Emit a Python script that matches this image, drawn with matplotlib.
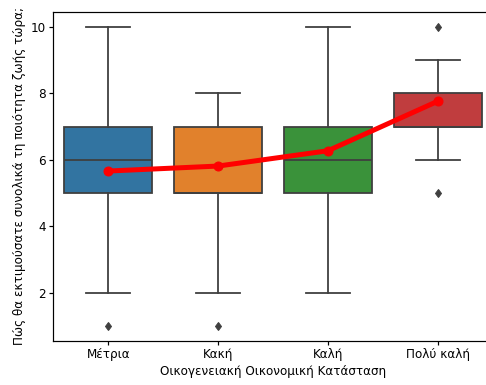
import matplotlib
matplotlib.use("Agg")
import matplotlib.pyplot as plt

categories = ["Μέτρια", "Κακή", "Καλή", "Πολύ καλή"]
whislo = [2, 2, 2, 6]
q1 = [5, 5, 5, 7]
med = [6, 5, 6, 7]
q3 = [7, 7, 7, 8]
whishi = [10, 8, 10, 9]
fliers = [[1], [1], [], [5, 10]]
means = [5.66, 5.81, 6.27, 7.76]
colors = ["#3274a1", "#e1812c", "#3a923a", "#c03d3e"]

xlabel = "Οικογενειακή Οικονομική Κατάσταση"
ylabel = "Πώς θα εκτιμούσατε συνολικά τη ποιότητα ζωής τώρα;"

dpi = 72
fig = plt.figure(figsize=(486 / dpi, 385 / dpi), dpi=dpi)
W, H = 486, 385
left, right, top, bottom = 53.3, 492.5, 12, 340.7
ax = fig.add_axes([left / W, 1 - bottom / H, (right - left) / W, (bottom - top) / H])

gray = "#3f3f3f"
lw = 1.8
stats = []
for i, c in enumerate(categories):
    stats.append(dict(whislo=whislo[i], q1=q1[i], med=med[i], q3=q3[i],
                      whishi=whishi[i], fliers=fliers[i], label=c))
pos = list(range(len(categories)))
bp = ax.bxp(stats, positions=pos, widths=0.8, patch_artist=True,
            boxprops=dict(edgecolor=gray, linewidth=lw),
            whiskerprops=dict(color=gray, linewidth=lw),
            capprops=dict(color=gray, linewidth=lw),
            medianprops=dict(color=gray, linewidth=lw),
            flierprops=dict(marker="d", markerfacecolor=gray, markeredgecolor=gray,
                            markersize=6, linestyle="none"))
for patch, col in zip(bp["boxes"], colors):
    patch.set_facecolor(col)

ax.plot(pos, means, color="red", linewidth=5, marker="o", markersize=9, zorder=5)

ax.set_xlim(-0.5, 3.5)
ax.set_ylim(0.55, 10.45)
ax.set_yticks([2, 4, 6, 8, 10])
ax.set_xticks(pos)
ax.set_xticklabels(categories)
ax.set_xlabel(xlabel, fontsize=12)
ax.set_ylabel(ylabel, fontsize=12)
ax.tick_params(labelsize=12, width=1.2, length=4.2)
for s in ax.spines.values():
    s.set_linewidth(1.2)

fig.savefig("out.png", dpi=dpi)
